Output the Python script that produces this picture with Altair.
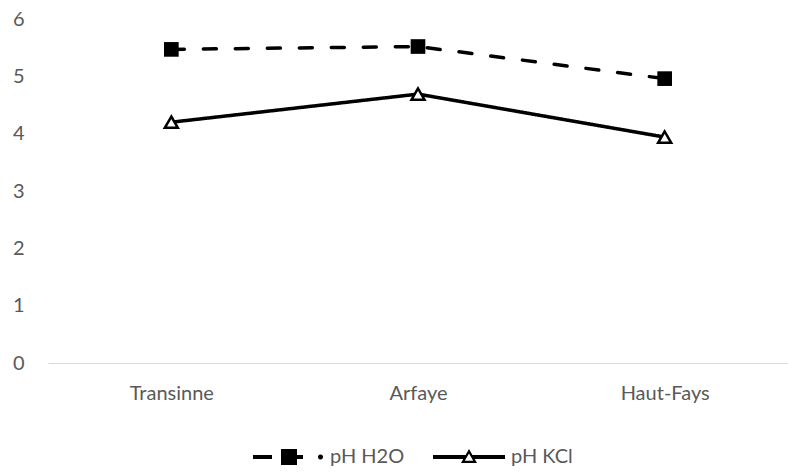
import math
import altair as alt
import pandas as pd

# ---- data ----
sites = ["Transinne", "Arfaye", "Haut-Fays"]
series = ["pH H2O", "pH KCl"]
ph_h2o = [5.47, 5.52, 4.96]
ph_kcl = [4.20, 4.69, 3.94]
y_ticks = [0, 1, 2, 3, 4, 5, 6]

rows = []
for s, v in zip(sites, ph_h2o):
    rows.append({"site": s, "serie": series[0], "value": v})
for s, v in zip(sites, ph_kcl):
    rows.append({"site": s, "serie": series[1], "value": v})
df = pd.DataFrame(rows)

FONT = "Lato"
GREY = "#595959"
FS = 20

# ---- legend symbol paths (pixel geometry relative to symbol centre -> unit coords) ----
W = 72
R = W / 2.0


def f(v):
    return f"{v / R:.4f}"


def rect(x0, x1, y0, y1):
    return f"M{f(x0)},{f(y0)}L{f(x1)},{f(y0)}L{f(x1)},{f(y1)}L{f(x0)},{f(y1)}Z"


def poly(pts):
    s = "M" + "L".join(f"{f(x)},{f(y)}" for x, y in pts)
    return s + "Z"


def circle(cx, r, n=12):
    pts = [(cx + r * math.cos(2 * math.pi * k / n), r * math.sin(2 * math.pi * k / n))
           for k in range(n)]
    return poly(pts)


lw = 1.9
h2o_path = (rect(-35, -16, -lw, lw) + rect(-7, 9, -8, 8) + rect(9, 15, -lw, lw)
            + circle(32.5, 2.6))
kcl_path = (rect(-36, -3.2, -lw, lw) + rect(3.2, 36, -lw, lw)
            + poly([(0, -8), (8, 6), (-8, 6)])
            + poly([(0, -3.56), (-4.2, 3.8), (4.2, 3.8)]))

x_enc = alt.X(
    "site:N",
    sort=sites,
    scale=alt.Scale(padding=0.5),
    axis=alt.Axis(
        title=None, labelAngle=0, ticks=False, tickSize=0,
        domainColor="#D9D9D9", domainWidth=1.2,
        labelFont=FONT, labelFontSize=FS, labelColor=GREY, labelPadding=20,
    ),
)
y_enc = alt.Y(
    "value:Q",
    scale=alt.Scale(domain=[0, 6]),
    axis=alt.Axis(
        title=None, values=y_ticks, grid=False, domain=False, ticks=False,
        tickSize=0, labelPadding=24,
        labelFont=FONT, labelFontSize=FS, labelColor=GREY,
    ),
)

base = alt.Chart(df)

lines = base.mark_line(strokeWidth=3.5, color="black", strokeCap="round").encode(
    x=x_enc,
    y=y_enc,
    strokeDash=alt.StrokeDash(
        "serie:N",
        scale=alt.Scale(domain=series, range=[[13, 19], [1, 0]]),
        legend=None,
    ),
    detail="serie:N",
)

squares = base.transform_filter(alt.datum.serie == series[0]).mark_point(
    shape="square", filled=True, color="black", size=215, opacity=1
).encode(x=x_enc, y=y_enc)

triangles = base.transform_filter(alt.datum.serie == series[1]).mark_point(
    shape="triangle-up", fill="white", stroke="black", strokeWidth=2.5,
    size=170, opacity=1, filled=False
).encode(x=x_enc, y=y_enc)


def legend_for(path, lx):
    return alt.Legend(
        title=None, orient="none", legendX=lx, legendY=402,
        direction="horizontal", symbolType=path, symbolSize=W * W,
        symbolStrokeWidth=0, symbolOpacity=1,
        labelFont=FONT, labelFontSize=FS, labelColor=GREY,
        labelOffset=6, padding=0,
    )


leg_h2o = base.transform_filter(alt.datum.serie == series[0]).mark_point(
    filled=True, size=1, opacity=0
).encode(
    x=x_enc, y=y_enc,
    color=alt.Color("serie:N",
                    scale=alt.Scale(domain=[series[0]], range=["black"]),
                    legend=legend_for(h2o_path, 204)),
)

leg_kcl = base.transform_filter(alt.datum.serie == series[1]).mark_point(
    filled=True, size=1, opacity=0
).encode(
    x=x_enc, y=y_enc,
    fill=alt.Fill("serie:N",
                  scale=alt.Scale(domain=[series[1]], range=["black"]),
                  legend=legend_for(kcl_path, 385)),
)

chart = alt.layer(lines, squares, triangles, leg_h2o, leg_kcl).resolve_scale(
    color="independent", fill="independent"
).properties(
    width=740,
    height=344,
    padding={"left": 48, "top": 19, "right": 0, "bottom": 109},
    autosize=alt.AutoSizeParams(type="none"),
    background="white",
).configure_view(stroke=None)

chart.save("out.html", embed_options={"renderer": "svg", "actions": False})
